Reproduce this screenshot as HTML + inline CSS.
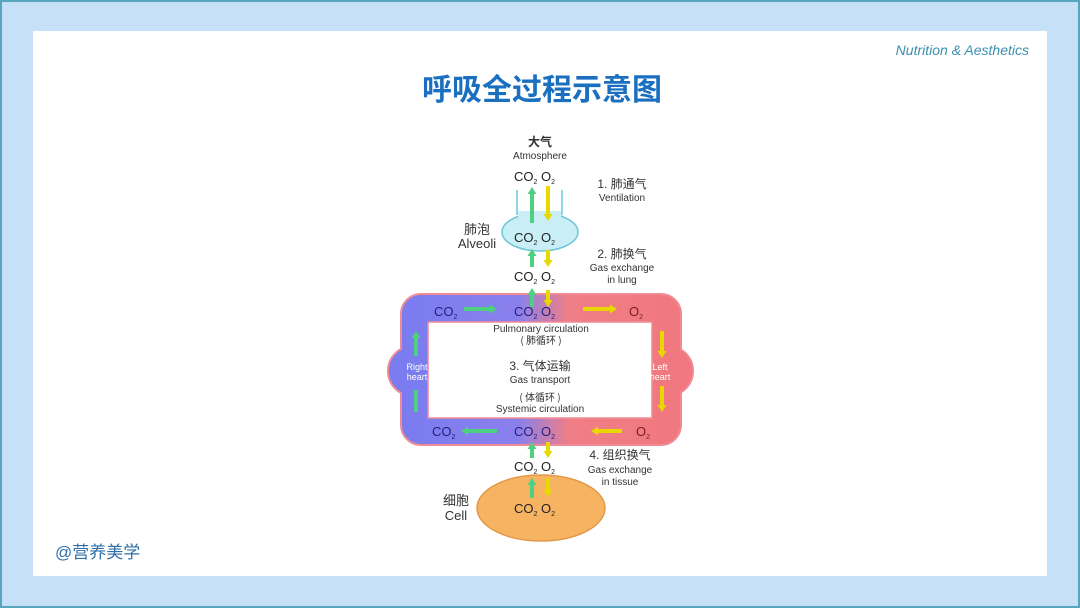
<!DOCTYPE html>
<html><head><meta charset="utf-8"><style>
html,body{margin:0;padding:0;}
body{width:1080px;height:608px;position:relative;overflow:hidden;background:#c6e0f8;font-family:"Liberation Sans","Noto Sans CJK SC",sans-serif;}
.frame{position:absolute;left:0;top:0;width:1076px;height:604px;border:2px solid #5aa6bf;}
.inner{position:absolute;left:33px;top:31px;width:1014px;height:545px;background:#fff;}
svg{position:absolute;left:0;top:0;}
</style></head><body>
<div class="frame"></div>
<div class="inner"></div>
<svg width="1080" height="608" viewBox="0 0 1080 608" font-family="Liberation Sans, Noto Sans CJK SC, sans-serif">
<defs>
<linearGradient id="lg" x1="400" y1="0" x2="682" y2="0" gradientUnits="userSpaceOnUse">
<stop offset="0" stop-color="#7a7cf0"/><stop offset="0.42" stop-color="#8a80ec"/><stop offset="0.6" stop-color="#f07e86"/><stop offset="1" stop-color="#f0787e"/>
</linearGradient>
<marker id="ga" markerWidth="8" markerHeight="9" refX="0" refY="4.5" orient="auto" markerUnits="userSpaceOnUse"><path d="M0,0 L7,4.5 L0,9z" fill="#4fcf80"/></marker>
<marker id="ya" markerWidth="8" markerHeight="9" refX="0" refY="4.5" orient="auto" markerUnits="userSpaceOnUse"><path d="M0,0 L7,4.5 L0,9z" fill="#e8d800"/></marker>
</defs>
<text x="1029" y="55" font-size="14" font-style="italic" fill="#3a8fb0" text-anchor="end">Nutrition &amp; Aesthetics</text>
<text x="542" y="100" font-size="30" font-weight="bold" fill="#1a6fc0" text-anchor="middle" font-family="Noto Sans CJK SC, sans-serif">呼吸全过程示意图</text>
<text x="55" y="558" font-size="17" fill="#2f6fa8" font-family="Liberation Sans, Noto Sans CJK SC, sans-serif">@营养美学</text>

<!-- loop -->
<circle cx="413" cy="371" r="25" fill="#7a7cf0" stroke="#f08a96" stroke-width="2"/>
<circle cx="668" cy="371" r="25" fill="#f0787e" stroke="#f08a96" stroke-width="2"/>
<rect x="401" y="294" width="280" height="151" rx="20" fill="url(#lg)" stroke="#f08a96" stroke-width="2"/>
<circle cx="413" cy="371" r="24" fill="#7a7cf0"/>
<circle cx="668" cy="371" r="24" fill="#f0787e"/>
<rect x="428" y="322" width="224" height="96" fill="#fff" stroke="#f08a96" stroke-width="1.5"/>

<!-- alveoli -->
<ellipse cx="540" cy="232" rx="38" ry="19" fill="#c9eef6" stroke="#6cc6d8" stroke-width="1.5"/>
<rect x="518" y="211" width="43" height="6" fill="#c9eef6"/>
<line x1="517" y1="190" x2="517" y2="215" stroke="#6cc6d8" stroke-width="1.5"/>
<line x1="562" y1="190" x2="562" y2="215" stroke="#6cc6d8" stroke-width="1.5"/>
<!-- cell -->
<ellipse cx="541" cy="508" rx="64" ry="33" fill="#f6b463" stroke="#e29a48" stroke-width="1.5"/>

<!-- arrows -->
<g stroke-width="4">
<line x1="532" y1="223" x2="532" y2="194" stroke="#4fcf80" marker-end="url(#ga)"/>
<line x1="548" y1="186" x2="548" y2="214" stroke="#e8d800" marker-end="url(#ya)"/>
<line x1="532" y1="267" x2="532" y2="256" stroke="#4fcf80" marker-end="url(#ga)"/>
<line x1="548" y1="250" x2="548" y2="260" stroke="#e8d800" marker-end="url(#ya)"/>
<line x1="532" y1="307" x2="532" y2="295" stroke="#4fcf80" marker-end="url(#ga)"/>
<line x1="548" y1="290" x2="548" y2="300" stroke="#e8d800" marker-end="url(#ya)"/>
<line x1="532" y1="458" x2="532" y2="449" stroke="#4fcf80" marker-end="url(#ga)"/>
<line x1="548" y1="442" x2="548" y2="451" stroke="#e8d800" marker-end="url(#ya)"/>
<line x1="532" y1="498" x2="532" y2="485" stroke="#4fcf80" marker-end="url(#ga)"/>
<line x1="548" y1="478" x2="548" y2="490" stroke="#e8d800" marker-end="url(#ya)"/>
<line x1="464" y1="309" x2="490" y2="309" stroke="#4fcf80" marker-end="url(#ga)"/>
<line x1="583" y1="309" x2="610" y2="309" stroke="#e8d800" marker-end="url(#ya)"/>
<line x1="497" y1="431" x2="468" y2="431" stroke="#4fcf80" marker-end="url(#ga)"/>
<line x1="622" y1="431" x2="598" y2="431" stroke="#e8d800" marker-end="url(#ya)"/>
<line x1="416" y1="356" x2="416" y2="338" stroke="#4fcf80" marker-end="url(#ga)"/>
<line x1="416" y1="412" x2="416" y2="390" stroke="#4fcf80"/>
<line x1="662" y1="331" x2="662" y2="351" stroke="#e8d800" marker-end="url(#ya)"/>
<line x1="662" y1="386" x2="662" y2="405" stroke="#e8d800" marker-end="url(#ya)"/>
</g>

<g font-size="13" fill="#222">
<text x="514" y="181">CO<tspan font-size="7" dy="3">2</tspan><tspan dy="-3"> O</tspan><tspan font-size="7" dy="3">2</tspan></text>
<text x="514" y="242">CO<tspan font-size="7" dy="3">2</tspan><tspan dy="-3"> O</tspan><tspan font-size="7" dy="3">2</tspan></text>
<text x="514" y="281">CO<tspan font-size="7" dy="3">2</tspan><tspan dy="-3"> O</tspan><tspan font-size="7" dy="3">2</tspan></text>
<text x="514" y="471">CO<tspan font-size="7" dy="3">2</tspan><tspan dy="-3"> O</tspan><tspan font-size="7" dy="3">2</tspan></text>
<text x="514" y="513">CO<tspan font-size="7" dy="3">2</tspan><tspan dy="-3"> O</tspan><tspan font-size="7" dy="3">2</tspan></text>
</g>
<g font-size="13" fill="#22227a">
<text x="514" y="316">CO<tspan font-size="7" dy="3">2</tspan><tspan dy="-3"> O</tspan><tspan font-size="7" dy="3">2</tspan></text>
<text x="514" y="436">CO<tspan font-size="7" dy="3">2</tspan><tspan dy="-3"> O</tspan><tspan font-size="7" dy="3">2</tspan></text>
<text x="434" y="316">CO<tspan font-size="7" dy="3">2</tspan></text>
<text x="432" y="436">CO<tspan font-size="7" dy="3">2</tspan></text>
</g>
<g font-size="13" fill="#7a1a22">
<text x="629" y="316">O<tspan font-size="7" dy="3">2</tspan></text>
<text x="636" y="436">O<tspan font-size="7" dy="3">2</tspan></text>
</g>

<g fill="#333" text-anchor="middle">
<text x="540" y="146" font-size="12" font-weight="bold" font-family="Noto Sans CJK SC, sans-serif">大气</text>
<text x="540" y="159" font-size="10">Atmosphere</text>
<text x="622" y="188" font-size="12" font-family="Liberation Sans, Noto Sans CJK SC, sans-serif">1. 肺通气</text>
<text x="622" y="201" font-size="10">Ventilation</text>
<text x="622" y="258" font-size="12" font-family="Liberation Sans, Noto Sans CJK SC, sans-serif">2. 肺换气</text>
<text x="622" y="271" font-size="10">Gas exchange</text>
<text x="622" y="283" font-size="10">in lung</text>
<text x="477" y="234" font-size="13" font-family="Noto Sans CJK SC, sans-serif">肺泡</text>
<text x="477" y="248" font-size="13">Alveoli</text>
<text x="541" y="332" font-size="10">Pulmonary circulation</text>
<text x="541" y="344" font-size="10" font-family="Noto Sans CJK SC, sans-serif">( 肺循环 )</text>
<text x="540" y="370" font-size="12" font-family="Liberation Sans, Noto Sans CJK SC, sans-serif">3. 气体运输</text>
<text x="540" y="383" font-size="10">Gas transport</text>
<text x="540" y="401" font-size="10" font-family="Noto Sans CJK SC, sans-serif">( 体循环 )</text>
<text x="540" y="412" font-size="10">Systemic circulation</text>
<text x="417" y="370" font-size="9" fill="#fff">Right</text>
<text x="417" y="380" font-size="9" fill="#fff">heart</text>
<text x="660" y="370" font-size="9" fill="#fff">Left</text>
<text x="660" y="380" font-size="9" fill="#fff">heart</text>
<text x="620" y="459" font-size="12" font-family="Liberation Sans, Noto Sans CJK SC, sans-serif">4. 组织换气</text>
<text x="620" y="473" font-size="10">Gas exchange</text>
<text x="620" y="485" font-size="10">in tissue</text>
<text x="456" y="505" font-size="13" font-family="Noto Sans CJK SC, sans-serif">细胞</text>
<text x="456" y="520" font-size="13">Cell</text>
</g>
</svg>
</body></html>
